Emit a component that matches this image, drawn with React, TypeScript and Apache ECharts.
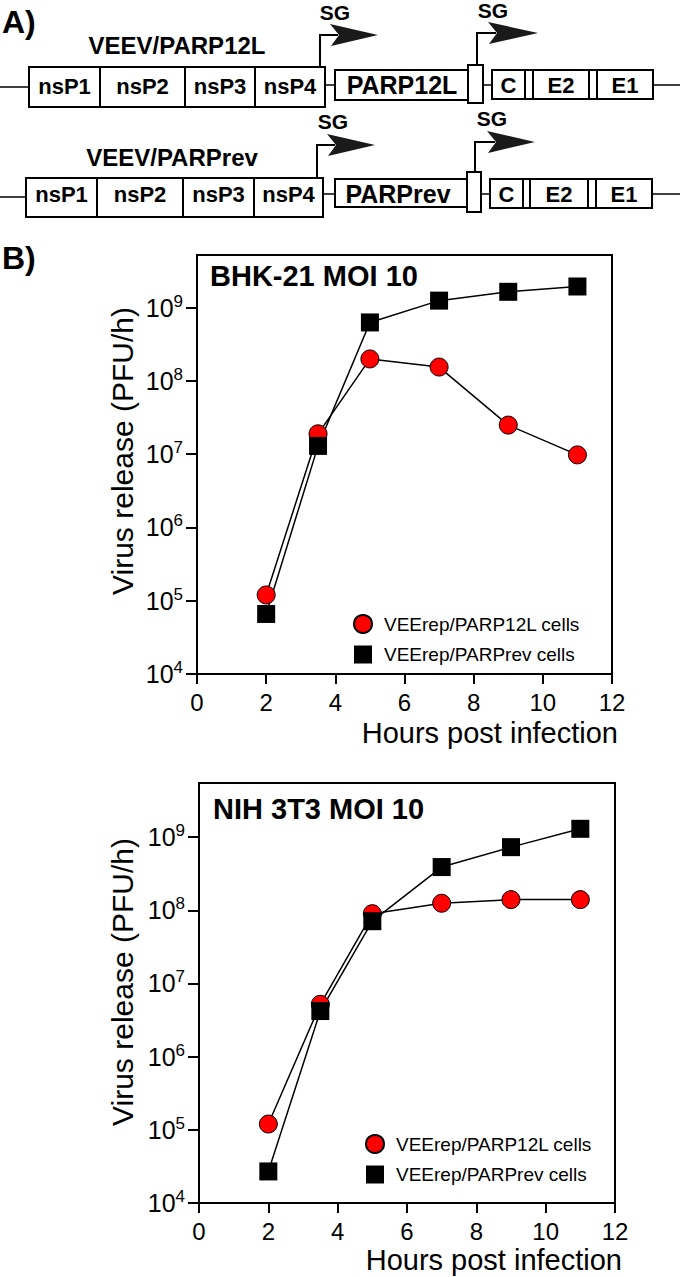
import React, { useEffect, useRef } from "react";
import * as echarts from "echarts";

// ---- data ----
const hours = [2, 3.5, 5, 7, 9, 11];
const bhkParp12L = [1.2e5, 1.9e7, 2.0e8, 1.55e8, 2.5e7, 9.8e6];
const bhkParpRev = [6.6e4, 1.3e7, 6.3e8, 1.25e9, 1.65e9, 1.95e9];
const nihParp12L = [1.2e5, 5.2e6, 9.0e7, 1.25e8, 1.4e8, 1.4e8];
const nihParpRev = [2.7e4, 4.2e6, 7.1e7, 3.9e8, 7.3e8, 1.3e9];
const yTickValues = [1e4, 1e5, 1e6, 1e7, 1e8, 1e9];
const seriesNames = ["VEErep/PARP12L cells", "VEErep/PARPrev cells"];
const panelTitles = ["BHK-21 MOI 10", "NIH 3T3 MOI 10"];
const xAxisTitle = "Hours post infection";
const yAxisTitle = "Virus release (PFU/h)";
const nsLabels = ["nsP1", "nsP2", "nsP3", "nsP4"];
const ceLabels = ["C", "E2", "E1"];
const constructNames = ["VEEV/PARP12L", "VEEV/PARPrev"];
const insertNames = ["PARP12L", "PARPrev"];

const FF = '"Liberation Sans", Arial, Helvetica, sans-serif';

type Arrow = { stem: number; base: number; y: number; back: number; tip: number; lx: number; ly: number };
type Row = {
  label: string; labelX: number; labelY: number;
  lineY: number; boxY: number; boxH: number; segs: number[]; nsTextY: number;
  ins: { x: number; w: number; y: number; h: number; text: string; tx: number; ty: number };
  sg: { x: number; w: number; y: number; h: number };
  connY: number;
  ce: { x: number; y: number; h: number; divs: number[]; right: number; ty: number };
  a1: Arrow;
  a2: Arrow;
};

const rows: Row[] = [
  {
    label: constructNames[0], labelX: 177, labelY: 45,
    lineY: 87, boxY: 67, boxH: 40, segs: [29, 100, 185, 255, 325], nsTextY: 86,
    ins: { x: 335, w: 133, y: 70, h: 30, text: insertNames[0], tx: 402, ty: 85 },
    sg: { x: 468, w: 15, y: 65, h: 38 },
    connY: 85,
    ce: { x: 492, y: 70, h: 29, divs: [525, 533, 589, 597], right: 653, ty: 85 },
    a1: { stem: 320, base: 67, y: 35, back: 330, tip: 378, lx: 335, ly: 12 },
    a2: { stem: 477, base: 65, y: 33, back: 488, tip: 538, lx: 493, ly: 10 },
  },
  {
    label: constructNames[1], labelX: 172, labelY: 157,
    lineY: 197, boxY: 178, boxH: 39, segs: [26, 97, 183, 254, 323], nsTextY: 194,
    ins: { x: 335, w: 132, y: 179, h: 28, text: insertNames[1], tx: 398, ty: 194 },
    sg: { x: 467, w: 14, y: 172, h: 40 },
    connY: 194,
    ce: { x: 490, y: 179, h: 29, divs: [523, 530, 588, 596], right: 652, ty: 194 },
    a1: { stem: 317, base: 178, y: 145, back: 327, tip: 375, lx: 333, ly: 121 },
    a2: { stem: 475, base: 172, y: 142, back: 487, tip: 535, lx: 492, ly: 118 },
  },
];

function txt(text: string, x: number, y: number, size: number, bold = true, align = "center", rotation = 0) {
  return {
    type: "text",
    silent: true,
    x, y, rotation,
    style: {
      text, x: 0, y: 0, fill: "#000",
      fontSize: size, fontWeight: bold ? "bold" : "normal", fontFamily: FF,
      align, verticalAlign: "middle", textAlign: align, textVerticalAlign: "middle",
    },
  };
}
function rect(x: number, y: number, w: number, h: number) {
  return { type: "rect", silent: true, shape: { x, y, width: w, height: h }, style: { fill: "#fff", stroke: "#000", lineWidth: 2 } };
}
function line(x1: number, y1: number, x2: number, y2: number, w = 1.5) {
  return { type: "line", silent: true, shape: { x1, y1, x2, y2 }, style: { stroke: "#000", lineWidth: w } };
}
function arrow(a: Arrow) {
  return [
    { type: "polyline", silent: true, shape: { points: [[a.stem, a.base], [a.stem, a.y], [a.back + 8, a.y]] }, style: { stroke: "#000", lineWidth: 2, fill: null } },
    { type: "polygon", silent: true, shape: { points: [[a.back, a.y - 11], [a.tip, a.y], [a.back + 1, a.y + 11], [a.back + 9, a.y]] }, style: { fill: "#1a1a1a" } },
    txt("SG", a.lx, a.ly, 21, true),
  ];
}

function buildDiagram(): any[] {
  const els: any[] = [];
  els.push(txt("A)", 2, 22, 32, true, "left"));
  els.push(txt("B)", 2, 258, 32, true, "left"));
  rows.forEach((r) => {
    els.push(line(0, r.lineY, r.segs[0], r.lineY));
    els.push(line(r.segs[4], r.connY, r.ins.x, r.connY));
    els.push(line(r.sg.x + r.sg.w, r.connY, r.ce.x, r.connY));
    els.push(line(r.ce.right, r.connY, 680, r.connY));
    els.push(...arrow(r.a1));
    els.push(...arrow(r.a2));
    for (let i = 0; i < 4; i++) {
      els.push(rect(r.segs[i], r.boxY, r.segs[i + 1] - r.segs[i], r.boxH));
      els.push(txt(nsLabels[i], (r.segs[i] + r.segs[i + 1]) / 2, r.nsTextY, 22));
    }
    els.push(rect(r.ins.x, r.ins.y, r.ins.w, r.ins.h));
    els.push(txt(r.ins.text, r.ins.tx, r.ins.ty, 25));
    els.push(rect(r.sg.x, r.sg.y, r.sg.w, r.sg.h));
    const xs = [r.ce.x, ...r.ce.divs, r.ce.right];
    for (let i = 0; i < xs.length - 1; i++) {
      els.push(rect(xs[i], r.ce.y, xs[i + 1] - xs[i], r.ce.h));
    }
    els.push(txt(ceLabels[0], (xs[0] + xs[1]) / 2, r.ce.ty, 22));
    els.push(txt(ceLabels[1], (xs[2] + xs[3]) / 2, r.ce.ty, 22));
    els.push(txt(ceLabels[2], (xs[4] + xs[5]) / 2, r.ce.ty, 22));
    els.push(txt(r.label, r.labelX, r.labelY, 24));
  });
  return els;
}

const panels = [
  { grid: { left: 197, top: 255, width: 415, height: 419 }, logMax: 9.72, titleLeft: 210, titleTop: 261, legendLeft: 353, legendTop: 614, yTitle: [122, 451], xTitle: [618, 733], data: [bhkParp12L, bhkParpRev], title: panelTitles[0] },
  { grid: { left: 199, top: 783, width: 416, height: 420 }, logMax: 9.74, titleLeft: 213, titleTop: 794, legendLeft: 365, legendTop: 1134, yTitle: [122, 982], xTitle: [622, 1260], data: [nihParp12L, nihParpRev], title: panelTitles[1] },
];

export default function App() {
  const ref = useRef<HTMLDivElement>(null);
  useEffect(() => {
    if (!ref.current) return;
    const chart = echarts.init(ref.current, undefined, { renderer: "svg" });
    const grids: any[] = [];
    const xAxes: any[] = [];
    const yAxes: any[] = [];
    const series: any[] = [];
    const titles: any[] = [];
    const legends: any[] = [];
    const axisTitles: any[] = [];
    panels.forEach((p, gi) => {
      grids.push({ ...p.grid, show: true, borderColor: "#000", borderWidth: 2, backgroundColor: "transparent", containLabel: false });
      xAxes.push({
        type: "value", gridIndex: gi, min: 0, max: 12, interval: 2,
        axisLine: { show: true, lineStyle: { color: "#000", width: 2 } },
        axisTick: { show: true, length: 10, inside: false, lineStyle: { color: "#000", width: 2 } },
        axisLabel: { fontSize: 24, fontFamily: FF, color: "#000", margin: 16 },
        splitLine: { show: false },
      });
      yAxes.push({
        type: "log", logBase: 10, gridIndex: gi, min: 1e4, max: Math.pow(10, p.logMax),
        axisLine: { show: true, lineStyle: { color: "#000", width: 2 } },
        axisTick: { show: true, length: 11, inside: false, lineStyle: { color: "#000", width: 2 }, customValues: yTickValues },
        axisLabel: {
          customValues: yTickValues,
          margin: 14,
          formatter: (v: number) => {
            const e = Math.round(Math.log10(v));
            return `{b|10}{s|${e}}`;
          },
          rich: {
            b: { fontSize: 25, fontFamily: FF, color: "#000", lineHeight: 30, verticalAlign: "middle" },
            s: { fontSize: 17, fontFamily: FF, color: "#000", lineHeight: 30, verticalAlign: "top" },
          },
        },
        splitLine: { show: false },
        minorTick: { show: false },
      });
      titles.push({
        text: p.title, left: p.titleLeft, top: p.titleTop, padding: 0,
        textStyle: { fontSize: 29, fontWeight: "bold", fontFamily: FF, color: "#000" },
      });
      legends.push({
        orient: "vertical", left: p.legendLeft, top: p.legendTop, itemWidth: 18, itemHeight: 18, itemGap: 11,
        selectedMode: false, padding: 0,
        data: [{ name: seriesNames[0], icon: "circle" }, { name: seriesNames[1], icon: "rect" }],
        textStyle: { fontSize: 19, fontFamily: FF, color: "#000", lineHeight: 18, padding: [0, 0, 0, 7] },
      });
      axisTitles.push(txt(xAxisTitle, p.xTitle[0], p.xTitle[1], 29, false, "right"));
      axisTitles.push(txt(yAxisTitle, p.yTitle[0], p.yTitle[1], 30, false, "center", Math.PI / 2));
      series.push({
        type: "line", name: seriesNames[0], xAxisIndex: gi, yAxisIndex: gi,
        data: hours.map((h, i) => [h, p.data[0][i]]),
        symbol: "circle", symbolSize: 18,
        itemStyle: { color: "#ff0000", borderColor: "#000", borderWidth: 1 },
        lineStyle: { color: "#000", width: 1.5 },
        emphasis: { disabled: true },
      });
      series.push({
        type: "line", name: seriesNames[1], xAxisIndex: gi, yAxisIndex: gi,
        data: hours.map((h, i) => [h, p.data[1][i]]),
        symbol: "rect", symbolSize: 18,
        itemStyle: { color: "#000", borderColor: "#000", borderWidth: 0 },
        lineStyle: { color: "#000", width: 1.5 },
        emphasis: { disabled: true },
      });
    });
    chart.setOption({
      animation: false,
      backgroundColor: "#fff",
      textStyle: { fontFamily: FF },
      title: titles,
      legend: legends,
      grid: grids,
      xAxis: xAxes,
      yAxis: yAxes,
      series,
      graphic: [...buildDiagram(), ...axisTitles],
    });
    return () => chart.dispose();
  }, []);
  return <div ref={ref} style={{ position: "absolute", left: 0, top: 0, width: 680, height: 1277 }} />;
}
